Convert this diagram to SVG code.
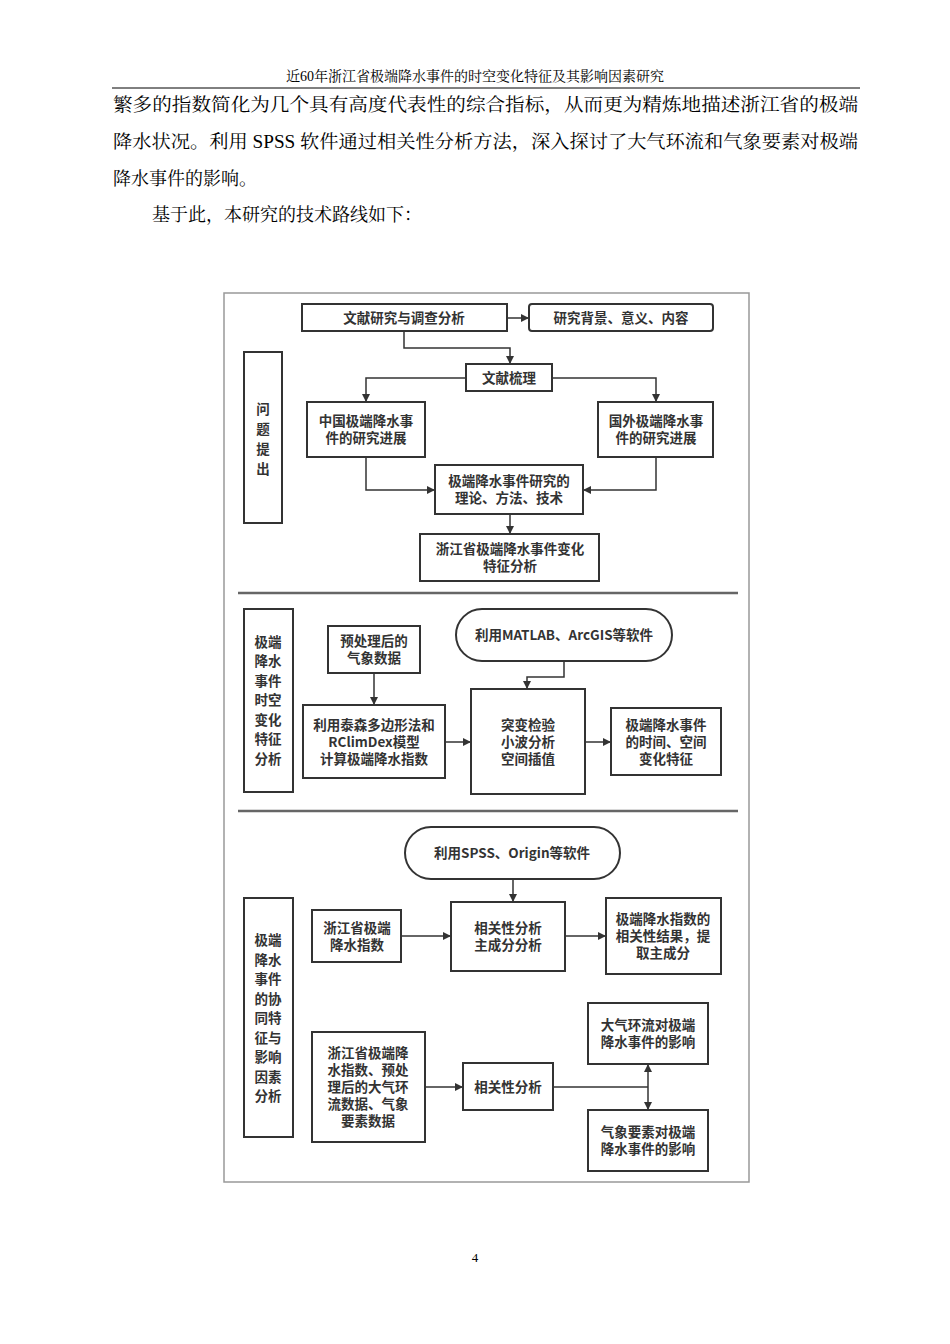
<svg xmlns="http://www.w3.org/2000/svg" width="950" height="1344" viewBox="0 0 950 1344">
<style>
.pg{font-family:"Liberation Serif","Noto Serif CJK SC","Noto Sans CJK SC",serif;fill:#000}
.b{fill:#fff;stroke:#333;stroke-width:2}
.t{font-family:"Noto Sans CJK SC","Noto Sans",sans-serif;font-weight:bold;font-size:13.5px;fill:#333;text-anchor:middle}
.c{fill:none;stroke:#333;stroke-width:1.5}
</style>
<defs>
<marker id="a" viewBox="0 0 10 10" refX="10" refY="5" markerWidth="8" markerHeight="8" markerUnits="userSpaceOnUse" orient="auto-start-reverse"><path d="M0,0L10,5L0,10z" fill="#333"/></marker>
</defs>
<rect width="950" height="1344" fill="#fff"/>
<text class="pg" x="475" y="81" font-size="14" text-anchor="middle">近60年浙江省极端降水事件的时空变化特征及其影响因素研究</text>
<line x1="112" y1="88" x2="860" y2="88" stroke="#000" stroke-width="1"/>
<text class="pg" x="113" y="111" font-size="18" textLength="745" lengthAdjust="spacingAndGlyphs">繁多的指数简化为几个具有高度代表性的综合指标，从而更为精炼地描述浙江省的极端</text>
<text class="pg" x="113" y="148" font-size="18" textLength="745" lengthAdjust="spacingAndGlyphs">降水状况。利用 SPSS 软件通过相关性分析方法，深入探讨了大气环流和气象要素对极端</text>
<text class="pg" x="113" y="185" font-size="18">降水事件的影响。</text>
<text class="pg" x="152" y="221" font-size="18">基于此，本研究的技术路线如下：</text>
<text class="pg" x="475" y="1262" font-size="13" text-anchor="middle" font-family="Liberation Sans,sans-serif">4</text>

<rect x="224" y="293" width="525" height="889" fill="none" stroke="#999" stroke-width="1.5"/>
<line x1="238" y1="593" x2="738" y2="593" stroke="#666" stroke-width="2.5"/>
<line x1="238" y1="811" x2="738" y2="811" stroke="#666" stroke-width="2.5"/>

<g id="connectors">
<path class="c" d="M507,318H529" marker-end="url(#a)"/>
<path class="c" d="M404,331V348H510V364" marker-end="url(#a)"/>
<path class="c" d="M466,378H366V402" marker-end="url(#a)"/>
<path class="c" d="M552,378H656V402" marker-end="url(#a)"/>
<path class="c" d="M366,457V490H435" marker-end="url(#a)"/>
<path class="c" d="M656,457V490H583" marker-end="url(#a)"/>
<path class="c" d="M510,514V534" marker-end="url(#a)"/>
<path class="c" d="M374,673V705" marker-end="url(#a)"/>
<path class="c" d="M564,661V677H527V689" marker-end="url(#a)"/>
<path class="c" d="M445,742H471" marker-end="url(#a)"/>
<path class="c" d="M585,742H611" marker-end="url(#a)"/>
<path class="c" d="M513,879V902" marker-end="url(#a)"/>
<path class="c" d="M401,936H451" marker-end="url(#a)"/>
<path class="c" d="M565,936H606" marker-end="url(#a)"/>
<path class="c" d="M425,1087H463" marker-end="url(#a)"/>
<path class="c" d="M553,1087H648"/>
<path class="c" d="M648,1087V1064" marker-end="url(#a)"/>
<path class="c" d="M648,1087V1110" marker-end="url(#a)"/>
</g>

<g id="n1"><rect class="b" x="302" y="304" width="205" height="27"/><text class="t" x="404" y="323">文献研究与调查分析</text></g>
<g id="n2"><rect class="b" x="529" y="304" width="184" height="27" rx="3"/><text class="t" x="621" y="323">研究背景、意义、内容</text></g>
<g id="n3"><rect class="b" x="466" y="364" width="86" height="27"/><text class="t" x="509" y="383">文献梳理</text></g>
<g id="n4"><rect class="b" x="307" y="402" width="118" height="55"/><text class="t" x="366" y="426">中国极端降水事</text><text class="t" x="366" y="443">件的研究进展</text></g>
<g id="n5"><rect class="b" x="598" y="402" width="115" height="55"/><text class="t" x="656" y="426">国外极端降水事</text><text class="t" x="656" y="443">件的研究进展</text></g>
<g id="n6"><rect class="b" x="244" y="352" width="38" height="171"/><text class="t" x="263" y="414">问</text><text class="t" x="263" y="434">题</text><text class="t" x="263" y="454">提</text><text class="t" x="263" y="474">出</text></g>
<g id="n7"><rect class="b" x="435" y="465" width="148" height="49"/><text class="t" x="509" y="486">极端降水事件研究的</text><text class="t" x="509" y="503">理论、方法、技术</text></g>
<g id="n8"><rect class="b" x="420" y="534" width="179" height="47"/><text class="t" x="510" y="554">浙江省极端降水事件变化</text><text class="t" x="510" y="571">特征分析</text></g>

<g id="n9"><rect class="b" x="244" y="609" width="49" height="183"/>
<text class="t" x="268" y="647">极端</text><text class="t" x="268" y="666">降水</text><text class="t" x="268" y="686">事件</text><text class="t" x="268" y="705">时空</text><text class="t" x="268" y="725">变化</text><text class="t" x="268" y="744">特征</text><text class="t" x="268" y="764">分析</text></g>
<g id="n10"><rect class="b" x="328" y="626" width="92" height="47"/><text class="t" x="374" y="646">预处理后的</text><text class="t" x="374" y="663">气象数据</text></g>
<g id="n11"><rect class="b" x="303" y="705" width="142" height="73"/><text class="t" x="374" y="730">利用泰森多边形法和</text><text class="t" x="374" y="747">RClimDex模型</text><text class="t" x="374" y="764">计算极端降水指数</text></g>
<g id="n12"><rect class="b" x="456" y="609" width="216" height="52" rx="26"/><text class="t" x="564" y="640">利用MATLAB、ArcGIS等软件</text></g>
<g id="n13"><rect class="b" x="471" y="689" width="114" height="105"/><text class="t" x="528" y="730">突变检验</text><text class="t" x="528" y="747">小波分析</text><text class="t" x="528" y="764">空间插值</text></g>
<g id="n14"><rect class="b" x="611" y="708" width="110" height="67"/><text class="t" x="666" y="730">极端降水事件</text><text class="t" x="666" y="747">的时间、空间</text><text class="t" x="666" y="764">变化特征</text></g>

<g id="n15"><rect class="b" x="405" y="827" width="215" height="52" rx="26"/><text class="t" x="512" y="858">利用SPSS、Origin等软件</text></g>
<g id="n16"><rect class="b" x="244" y="898" width="49" height="239"/>
<text class="t" x="268" y="945">极端</text><text class="t" x="268" y="965">降水</text><text class="t" x="268" y="984">事件</text><text class="t" x="268" y="1004">的协</text><text class="t" x="268" y="1023">同特</text><text class="t" x="268" y="1043">征与</text><text class="t" x="268" y="1062">影响</text><text class="t" x="268" y="1082">因素</text><text class="t" x="268" y="1101">分析</text></g>
<g id="n17"><rect class="b" x="312" y="910" width="89" height="52"/><text class="t" x="357" y="933">浙江省极端</text><text class="t" x="357" y="950">降水指数</text></g>
<g id="n18"><rect class="b" x="451" y="902" width="114" height="69"/><text class="t" x="508" y="933">相关性分析</text><text class="t" x="508" y="950">主成分分析</text></g>
<g id="n19"><rect class="b" x="606" y="898" width="115" height="76"/><text class="t" x="663" y="924">极端降水指数的</text><text class="t" x="663" y="941">相关性结果，提</text><text class="t" x="663" y="958">取主成分</text></g>
<g id="n20"><rect class="b" x="312" y="1032" width="113" height="110"/><text class="t" x="368" y="1058">浙江省极端降</text><text class="t" x="368" y="1075">水指数、预处</text><text class="t" x="368" y="1092">理后的大气环</text><text class="t" x="368" y="1109">流数据、气象</text><text class="t" x="368" y="1126">要素数据</text></g>
<g id="n21"><rect class="b" x="463" y="1063" width="90" height="47"/><text class="t" x="508" y="1092">相关性分析</text></g>
<g id="n22"><rect class="b" x="588" y="1003" width="120" height="61"/><text class="t" x="648" y="1030">大气环流对极端</text><text class="t" x="648" y="1047">降水事件的影响</text></g>
<g id="n23"><rect class="b" x="588" y="1110" width="120" height="61"/><text class="t" x="648" y="1137">气象要素对极端</text><text class="t" x="648" y="1154">降水事件的影响</text></g>
</svg>
